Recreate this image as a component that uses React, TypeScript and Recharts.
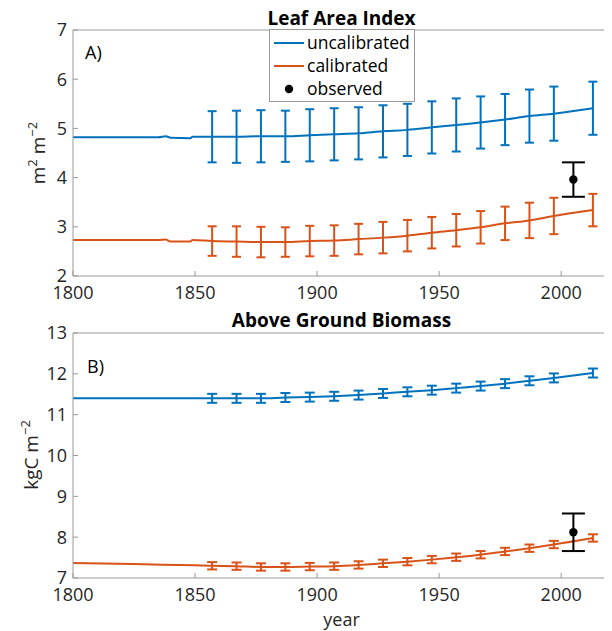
import { ComposedChart, Line, Scatter, ErrorBar, XAxis, YAxis } from "recharts";

const BLUE = "#0072BD";
const ORANGE = "#D95319";
const AXIS = "#999999";
const TEXT = "#262626";
const FONT = "'Open Sans', sans-serif";

const xTicks = [1800, 1850, 1900, 1950, 2000];

// years with an ensemble error bar (both panels)
const barYears = [1857, 1867, 1877, 1887, 1897, 1907, 1917, 1927, 1937, 1947, 1957, 1967, 1977, 1987, 1997, 2013];

// Leaf Area Index — spin-up part of the lines, before the first bar
const laiSpinYears = [1800, 1835, 1838, 1840, 1848, 1849];
const laiUncalSpin = [4.82, 4.82, 4.84, 4.81, 4.8, 4.83];
const laiCalSpin = [2.73, 2.73, 2.74, 2.7, 2.7, 2.73];

const laiUncal = [4.83, 4.83, 4.84, 4.84, 4.86, 4.88, 4.9, 4.94, 4.97, 5.02, 5.07, 5.12, 5.18, 5.25, 5.3, 5.41];
const laiUncalErr = [0.52, 0.53, 0.53, 0.52, 0.53, 0.53, 0.53, 0.53, 0.53, 0.53, 0.54, 0.53, 0.52, 0.54, 0.55, 0.54];
const laiCal = [2.71, 2.7, 2.69, 2.69, 2.71, 2.72, 2.75, 2.78, 2.82, 2.88, 2.93, 2.99, 3.07, 3.13, 3.22, 3.34];
const laiCalErr = [0.3, 0.31, 0.31, 0.3, 0.31, 0.31, 0.31, 0.32, 0.32, 0.32, 0.33, 0.33, 0.34, 0.36, 0.37, 0.33];

const laiObsYear = 2005;
const laiObs = 3.96;
const laiObsErr = 0.35;

// Above Ground Biomass
const agbSpinYears = [1800, 1825, 1850];
const agbUncalSpin = [11.4, 11.4, 11.4];
const agbCalSpin = [7.37, 7.34, 7.31];

const agbUncal = [11.4, 11.4, 11.4, 11.42, 11.43, 11.45, 11.48, 11.52, 11.56, 11.6, 11.65, 11.7, 11.76, 11.83, 11.9, 12.02];
const agbUncalErr = [0.11, 0.11, 0.11, 0.11, 0.11, 0.11, 0.11, 0.11, 0.11, 0.11, 0.11, 0.11, 0.11, 0.11, 0.11, 0.11];
const agbCal = [7.3, 7.29, 7.27, 7.27, 7.28, 7.29, 7.32, 7.36, 7.4, 7.45, 7.51, 7.57, 7.65, 7.73, 7.82, 7.98];
const agbCalErr = [0.09, 0.09, 0.09, 0.09, 0.09, 0.09, 0.09, 0.09, 0.09, 0.09, 0.09, 0.09, 0.09, 0.09, 0.09, 0.09];

const agbObsYear = 2005;
const agbObs = 8.12;
const agbObsErr = 0.46;

type Pt = { x: number; y: number; err: number };

const pts = (xs: number[], ys: number[], es?: number[]): Pt[] =>
  xs.map((x, i) => ({ x, y: ys[i], err: es ? es[i] : 0 }));

const blank = () => <g />;
const dotShape = (p: any) => <circle cx={p.cx} cy={p.cy} r={4.2} fill="#000" />;

const tickStyle = { fill: TEXT, fontSize: 18, fontFamily: FONT };

interface PanelProps {
  height: number;
  margin: { top: number; right: number; bottom: number; left: number };
  yDomain: [number, number];
  yTicks: number[];
  uncalLine: Pt[];
  calLine: Pt[];
  uncalBars: Pt[];
  calBars: Pt[];
  obs: Pt[];
  cap: number;
  xHeight: number;
  xLabel?: string;
  yLabel: JSX.Element;
}

function Panel(p: PanelProps) {
  return (
    <ComposedChart width={604} height={p.height} margin={p.margin}>
      <XAxis dataKey="x" type="number" domain={[1800, 2020]} ticks={xTicks} interval={0}
        allowDataOverflow stroke={AXIS} tickSize={-5} tickMargin={15} tick={tickStyle}
        height={p.xHeight}
        label={p.xLabel ? { value: p.xLabel, position: "insideBottom", offset: 2, fill: TEXT, fontSize: 18, fontFamily: FONT } : undefined} />
      <XAxis xAxisId="top" orientation="top" type="number" domain={[1800, 2020]} ticks={xTicks}
        interval={0} allowDataOverflow stroke={AXIS} tickSize={-5} tick={false} height={1} />
      <YAxis type="number" domain={p.yDomain} ticks={p.yTicks} interval={0} allowDataOverflow
        stroke={AXIS} tickSize={-5} tickMargin={11} tick={tickStyle} width={65}
        label={() => p.yLabel} />
      <YAxis yAxisId="right" orientation="right" type="number" domain={p.yDomain} ticks={p.yTicks}
        interval={0} allowDataOverflow stroke={AXIS} tickSize={-5} tick={false} width={1} />

      <Line data={p.uncalLine} dataKey="y" type="monotone" stroke={BLUE} strokeWidth={2}
        dot={false} isAnimationActive={false} />
      <Line data={p.calLine} dataKey="y" type="monotone" stroke={ORANGE} strokeWidth={2}
        dot={false} isAnimationActive={false} />

      <Scatter data={p.uncalBars} dataKey="y" shape={blank} isAnimationActive={false}>
        <ErrorBar dataKey="err" direction="y" width={p.cap} stroke={BLUE} strokeWidth={2} isAnimationActive={false} />
      </Scatter>
      <Scatter data={p.calBars} dataKey="y" shape={blank} isAnimationActive={false}>
        <ErrorBar dataKey="err" direction="y" width={p.cap} stroke={ORANGE} strokeWidth={2} isAnimationActive={false} />
      </Scatter>
      <Scatter data={p.obs} dataKey="y" shape={dotShape} isAnimationActive={false}>
        <ErrorBar dataKey="err" direction="y" width={11.5} stroke="#000" strokeWidth={2} isAnimationActive={false} />
      </Scatter>
    </ComposedChart>
  );
}

export default function App() {
  const laiUncalLine = pts([...laiSpinYears, ...barYears], [...laiUncalSpin, ...laiUncal]);
  const laiCalLine = pts([...laiSpinYears, ...barYears], [...laiCalSpin, ...laiCal]);
  const agbUncalLine = pts([...agbSpinYears, ...barYears], [...agbUncalSpin, ...agbUncal]);
  const agbCalLine = pts([...agbSpinYears, ...barYears], [...agbCalSpin, ...agbCal]);

  const legendRows = [
    { label: "uncalibrated", color: BLUE, kind: "line" },
    { label: "calibrated", color: ORANGE, kind: "line" },
    { label: "observed", color: "#000", kind: "dot" },
  ];

  return (
    <div style={{ position: "relative", width: 604, height: 623, fontFamily: FONT, background: "#fff" }}>
      <div style={{ position: "absolute", left: 0, top: 0 }}>
        <Panel height={300} margin={{ top: 21, right: 1, bottom: 2, left: 0 }}
          yDomain={[2, 7]} yTicks={[2, 3, 4, 5, 6, 7]}
          uncalLine={laiUncalLine} calLine={laiCalLine}
          uncalBars={pts(barYears, laiUncal, laiUncalErr)}
          calBars={pts(barYears, laiCal, laiCalErr)}
          obs={pts([laiObsYear], [laiObs], [laiObsErr])}
          cap={4.5} xHeight={30}
          yLabel={
            <text x={37} y={145} transform="rotate(-90 37 145)" textAnchor="middle"
              fill={TEXT} fontSize={19} fontFamily={FONT}>
              m<tspan dy={-8} fontSize={13}>2</tspan>
              <tspan dy={8}> m</tspan>
              <tspan dy={-8} fontSize={13}>{"\u22122"}</tspan>
            </text>
          } />
      </div>
      <div style={{ position: "absolute", left: 0, top: 300 }}>
        <Panel height={323} margin={{ top: 24, right: 1, bottom: 3, left: 0 }}
          yDomain={[7, 13]} yTicks={[7, 8, 9, 10, 11, 12, 13]}
          uncalLine={agbUncalLine} calLine={agbCalLine}
          uncalBars={pts(barYears, agbUncal, agbUncalErr)}
          calBars={pts(barYears, agbCal, agbCalErr)}
          obs={pts([agbObsYear], [agbObs], [agbObsErr])}
          cap={5} xHeight={50} xLabel="year"
          yLabel={
            <text x={30} y={147} transform="rotate(-90 30 147)" textAnchor="middle"
              fill={TEXT} fontSize={19} fontFamily={FONT}>
              kgC m<tspan dy={-8} fontSize={13}>{"\u22122"}</tspan>
            </text>
          } />
      </div>

      <svg width={604} height={623} style={{ position: "absolute", left: 0, top: 0, pointerEvents: "none" }}>
        <rect x={261.5} y={21.5} width={145} height={72} fill="#fff" stroke={AXIS} strokeWidth={1} />
        {legendRows.map((r, i) => {
          const cy = 35 + i * 23;
          return (
            <g key={r.label}>
              {r.kind === "line" ? (
                <line x1={266} x2={296} y1={cy} y2={cy} stroke={r.color} strokeWidth={2} />
              ) : (
                <circle cx={281} cy={cy} r={4.2} fill={r.color} />
              )}
              <text x={299} y={cy + 6} fontSize={17.5} fill="#000" fontFamily={FONT}>{r.label}</text>
            </g>
          );
        })}

        <text x={333.5} y={17} textAnchor="middle" fontSize={19} fontWeight="bold" fill="#000" fontFamily={FONT}>
          Leaf Area Index
        </text>
        <text x={333.5} y={319} textAnchor="middle" fontSize={19} fontWeight="bold" fill="#000" fontFamily={FONT}>
          Above Ground Biomass
        </text>
        <text x={77} y={51} fontSize={18} fill="#000" fontFamily={FONT}>A)</text>
        <text x={79} y={365} fontSize={18} fill="#000" fontFamily={FONT}>B)</text>
      </svg>
    </div>
  );
}
